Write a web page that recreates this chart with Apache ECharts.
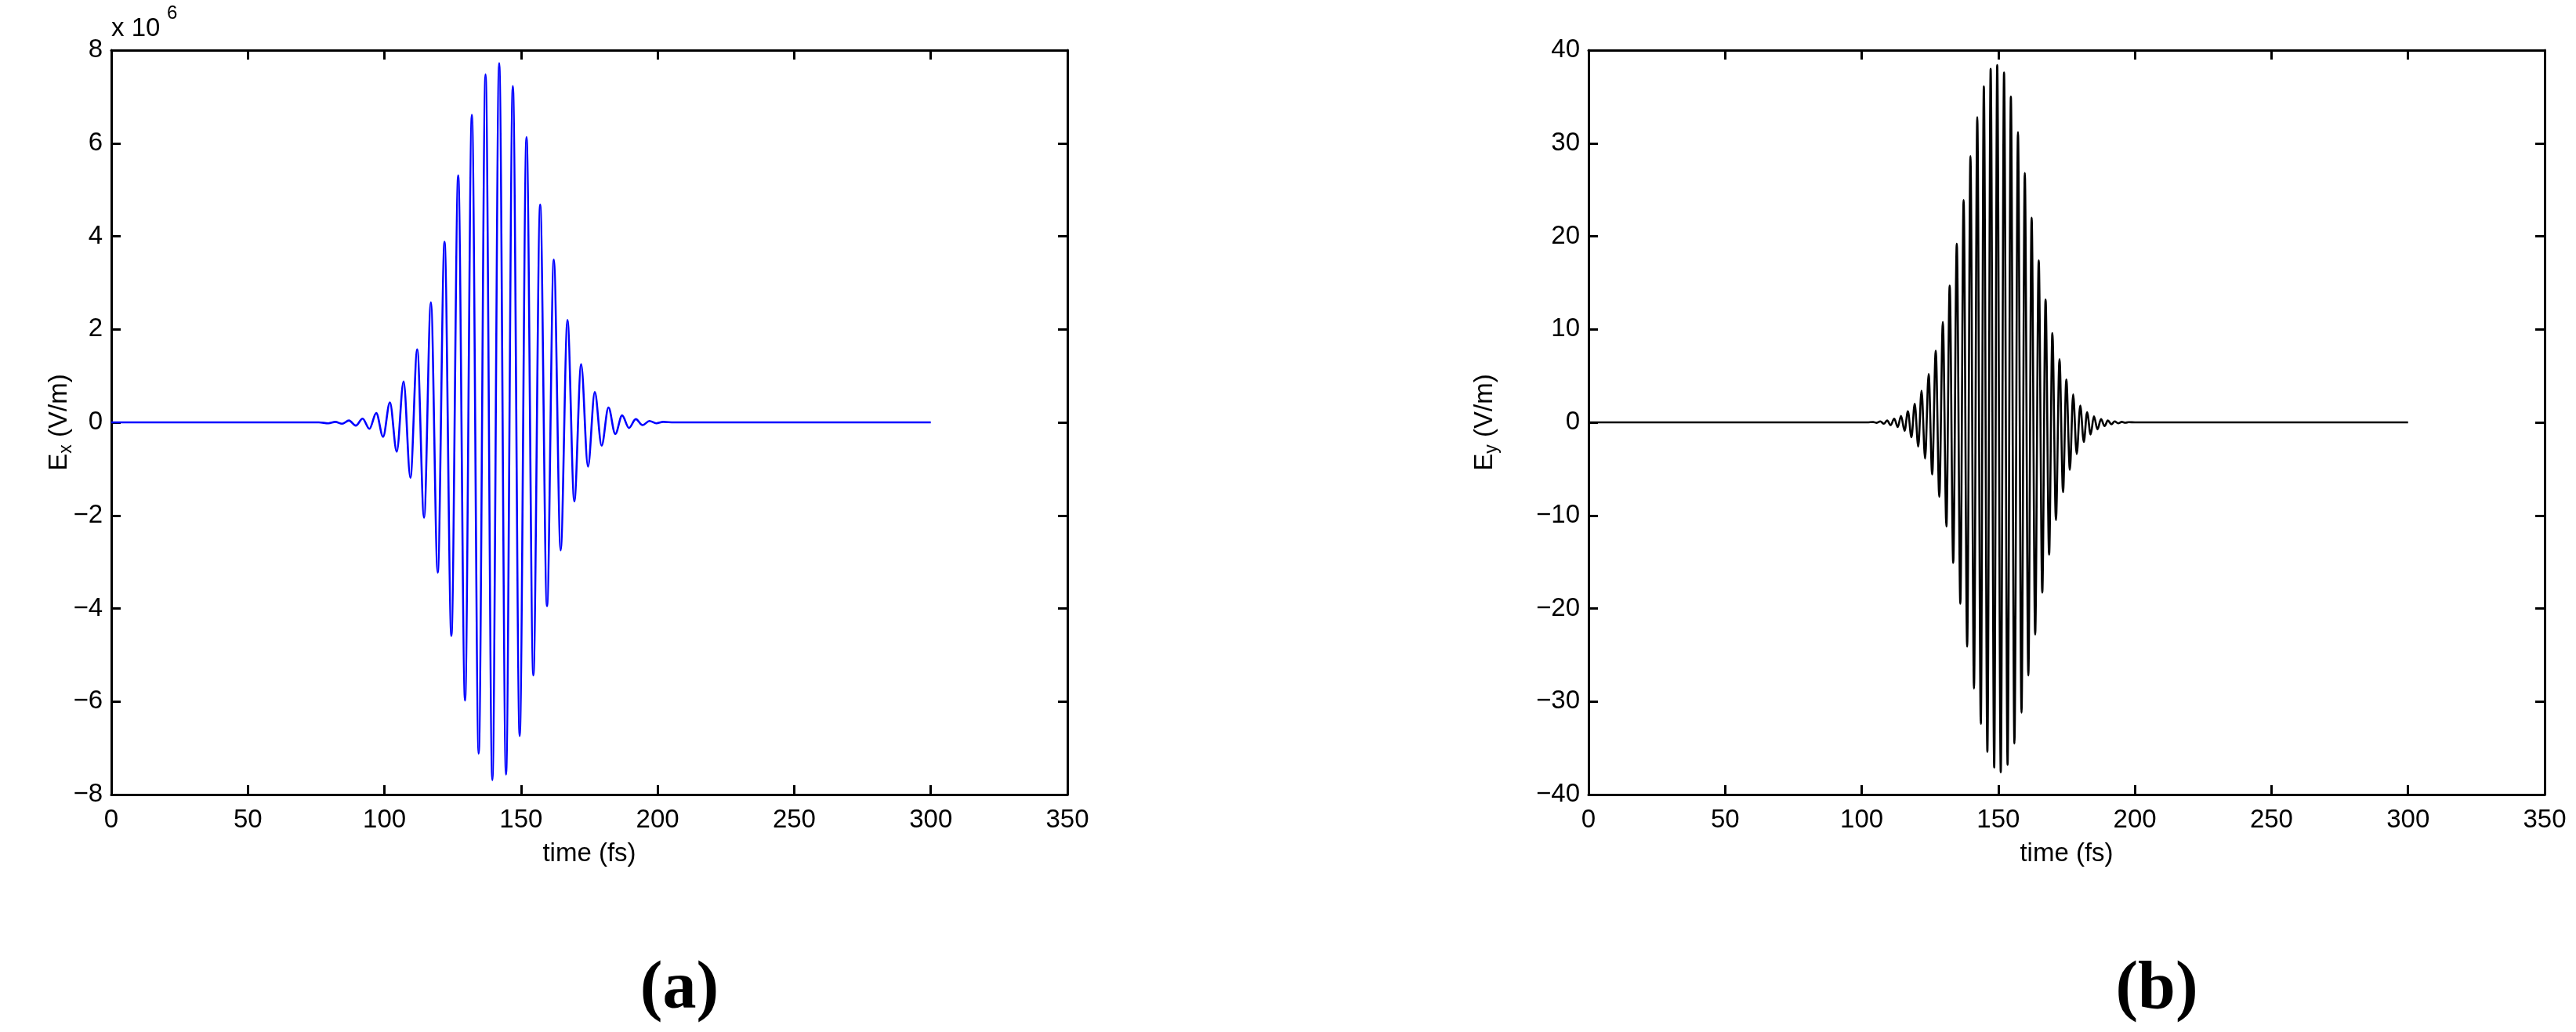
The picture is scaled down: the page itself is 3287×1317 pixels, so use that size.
<!DOCTYPE html>
<html>
<head>
<meta charset="utf-8">
<title>Ex / Ey pulses</title>
<script src="https://cdn.jsdelivr.net/npm/echarts@6/dist/echarts.min.js"></script>
<style>
  html, body { margin: 0; padding: 0; background: #fff; }
  #chart { width: 3287px; height: 1317px; }
</style>
</head>
<body>
<div id="chart"></div>
<script>
// 数据：极值点 (时间 fs, 数值)
// (a) Ex，单位 10^6 V/m
const exTime = [0, 76, 79.5, 82, 84.5, 87, 89.5, 92, 94.5, 97, 99.5, 102, 104.5, 107, 109.5, 112, 114.5, 117,
  119.5, 122, 124.5, 127, 129.5, 132, 134.5, 137, 139.5, 142, 144.5, 147, 149.5, 152, 154.5, 157, 159.5, 162,
  164.5, 167, 169.5, 172, 174.5, 177, 179.5, 182, 184.5, 187, 189.5, 192, 194.5, 197, 199.5, 202, 206, 300];
const exValue = [0, 0, -0.02, 0.01, -0.03, 0.04, -0.07, 0.08, -0.14, 0.2, -0.31, 0.43, -0.63, 0.88, -1.19, 1.57, -2.05, 2.58,
  -3.23, 3.88, -4.59, 5.31, -5.98, 6.61, -7.12, 7.48, -7.69, 7.72, -7.57, 7.23, -6.74, 6.13, -5.44, 4.68, -3.95, 3.5,
  -2.75, 2.2, -1.7, 1.25, -0.95, 0.65, -0.5, 0.32, -0.25, 0.15, -0.12, 0.07, -0.06, 0.03, -0.02, 0.01, 0, 0];

// (b) Ey，单位 V/m
const eyTime = [0, 102, 104.2, 105.5, 106.8, 108.1, 109.3, 110.6, 111.9, 113.2, 114.4, 115.7, 116.9, 118.2, 119.4, 120.7,
  121.9, 123.2, 124.5, 125.8, 127.1, 128.4, 129.7, 131.0, 132.2, 133.5, 134.8, 136.1, 137.3, 138.6, 139.8, 141.1,
  142.3, 143.6, 144.7, 146.0, 147.2, 148.5, 149.6, 150.9, 152.1, 153.4, 154.6, 155.9, 157.2, 158.5, 159.7, 161.0,
  162.2, 163.5, 164.8, 166.1, 167.3, 168.6, 169.8, 171.1, 172.4, 173.7, 174.9, 176.2, 177.4, 178.7, 180.0, 181.3,
  182.5, 183.8, 185.0, 186.3, 187.6, 188.9, 190.1, 191.4, 192.6, 193.9, 195.2, 196.5, 197.7, 200, 300];
const eyValue = [0, 0, 0.03, -0.05, 0.1, -0.15, 0.2, -0.3, 0.4, -0.5, 0.7, -0.9, 1.2, -1.6, 2.0, -2.6,
  3.4, -3.9, 5.2, -5.6, 7.7, -8.0, 10.8, -11.2, 14.7, -15.1, 19.2, -19.5, 23.9, -24.1, 28.6, -28.6,
  32.8, -32.4, 36.1, -35.4, 38.0, -37.1, 38.4, -37.6, 37.6, -36.8, 35.0, -34.5, 31.2, -31.2, 26.8, -27.2,
  22.0, -22.8, 17.4, -18.3, 13.2, -14.2, 9.6, -10.5, 6.8, -7.5, 4.6, -5.1, 3.0, -3.4, 1.8, -2.1,
  1.1, -1.3, 0.65, -0.75, 0.35, -0.4, 0.2, -0.2, 0.1, -0.1, 0.05, -0.04, 0.02, 0, 0];

const xTicks = { min: 0, max: 350, interval: 50 };
const exTicks = { min: -8, max: 8, interval: 2 };
const eyTicks = { min: -40, max: 40, interval: 10 };

const FONT = 'Arial, "Liberation Sans", Helvetica, sans-serif';
const SERIF = '"Times New Roman", "Liberation Serif", serif';

const chart = echarts.init(document.getElementById('chart'));

const minusFmt = (v) => String(v).replace('-', '\u2212');

function makeX(gridIndex, pos) {
  return {
    type: 'value', gridIndex: gridIndex, position: pos,
    min: xTicks.min, max: xTicks.max, interval: xTicks.interval,
    axisLine: { show: true, onZero: false, lineStyle: { color: '#000', width: 3 } },
    axisTick: { show: true, inside: true, length: 12, lineStyle: { color: '#000', width: 3 } },
    axisLabel: { show: pos === 'bottom', margin: 16, color: '#000', fontSize: 33, fontFamily: FONT },
    splitLine: { show: false }
  };
}

function makeY(gridIndex, pos, t) {
  return {
    type: 'value', gridIndex: gridIndex, position: pos,
    min: t.min, max: t.max, interval: t.interval,
    axisLine: { show: true, onZero: false, lineStyle: { color: '#000', width: 3 } },
    axisTick: { show: true, inside: true, length: 12, lineStyle: { color: '#000', width: 3 } },
    axisLabel: { show: pos === 'left', margin: 11, color: '#000', fontSize: 33, fontFamily: FONT, formatter: minusFmt },
    splitLine: { show: false }
  };
}

function ylabel(x, sub) {
  return {
    type: 'text', x: x, y: 539, rotation: Math.PI / 2,
    style: {
      text: '{e|E}{s|' + sub + '}{e| (V/m)}',
      align: 'center', verticalAlign: 'middle',
      rich: {
        e: { fontSize: 33, fontFamily: FONT, fill: '#000', lineHeight: 40 },
        s: { fontSize: 23, fontFamily: FONT, fill: '#000', lineHeight: 40, verticalAlign: 'bottom' }
      }
    }
  };
}

function textAt(x, y, text, size, family, weight) {
  return {
    type: 'text', x: x, y: y,
    style: { text: text, fontSize: size, fontFamily: family, fontWeight: weight || 'normal',
      fill: '#000', align: 'center', verticalAlign: 'middle' }
  };
}

const option = {
  animation: false,
  backgroundColor: '#fff',
  grid: [
    { left: 142, top: 64, width: 1220, height: 950, containLabel: false },
    { left: 2027, top: 64, width: 1220, height: 950, containLabel: false }
  ],
  xAxis: [makeX(0, 'bottom'), makeX(0, 'top'), makeX(1, 'bottom'), makeX(1, 'top')],
  yAxis: [makeY(0, 'left', exTicks), makeY(0, 'right', exTicks), makeY(1, 'left', eyTicks), makeY(1, 'right', eyTicks)],
  series: [
    {
      name: 'Ex', type: 'line', xAxisIndex: 0, yAxisIndex: 0,
      data: exTime.map((t, i) => [t, exValue[i]]),
      smooth: 0.34, smoothMonotone: 'x', symbol: 'none',
      lineStyle: { color: '#0000ff', width: 2.6 }
    },
    {
      name: 'Ey', type: 'line', xAxisIndex: 2, yAxisIndex: 2,
      data: eyTime.map((t, i) => [t, eyValue[i]]),
      smooth: 0.34, smoothMonotone: 'x', symbol: 'none',
      lineStyle: { color: '#000', width: 2.6 }
    }
  ],
  graphic: [
    { type: 'text', x: 142, y: 37, style: { text: 'x 10', fontSize: 33, fontFamily: FONT, fill: '#000', align: 'left', verticalAlign: 'middle' } },
    { type: 'text', x: 213, y: 17, style: { text: '6', fontSize: 24, fontFamily: FONT, fill: '#000', align: 'left', verticalAlign: 'middle' } },
    ylabel(76, 'x'),
    ylabel(1895, 'y'),
    textAt(752, 1090, 'time (fs)', 33, FONT),
    textAt(2637, 1090, 'time (fs)', 33, FONT),
    textAt(867, 1264, '(a)', 86, SERIF, 'bold'),
    textAt(2752, 1264, '(b)', 86, SERIF, 'bold')
  ]
};

chart.setOption(option);
</script>
</body>
</html>
